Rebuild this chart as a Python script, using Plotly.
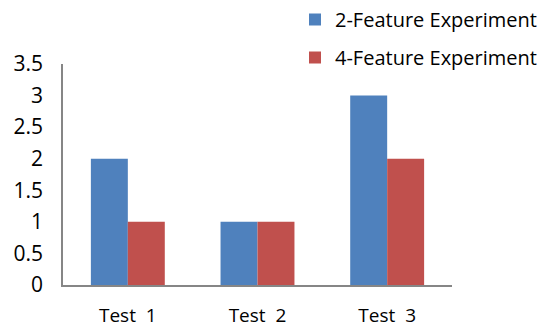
import plotly.graph_objects as go

categories = ["Test\u00a0\u00a01", "Test\u00a0\u00a02", "Test\u00a0\u00a03"]
series_2feat = [2, 1, 3]
series_4feat = [1, 1, 2]
y_ticks = [0, 0.5, 1, 1.5, 2, 2.5, 3, 3.5]
y_tick_labels = ["0", "0.5", "1", "1.5", "2", "2.5", "3", "3.5"]

fig = go.Figure()
fig.add_trace(go.Bar(x=categories, y=series_2feat, name="2-Feature Experiment",
                     marker=dict(color="#4F81BD", line=dict(width=0)), legendgroup="a"))
fig.add_trace(go.Bar(x=categories, y=series_4feat, name="4-Feature Experiment",
                     marker=dict(color="#C0504D", line=dict(width=0)), legendgroup="b"))

font_family = "Open Sans, Noto Sans, sans-serif"
fig.update_layout(
    width=545, height=329,
    margin=dict(l=63, r=93, t=64, b=44, autoexpand=False),
    paper_bgcolor="white", plot_bgcolor="white",
    barmode="group", bargap=0.43, bargroupgap=0,
    font=dict(family=font_family, size=19, color="black"),
    showlegend=True,
    legend=dict(x=295 / 545, y=1 - 0 / 329, xanchor="left", yanchor="top",
                xref="container", yref="container",
                font=dict(size=20), tracegroupgap=9,
                itemwidth=30, bgcolor="rgba(0,0,0,0)"),
    xaxis=dict(showline=True, linecolor="#868686", linewidth=1.5,
               ticks="outside", ticklen=12, tickcolor="rgba(0,0,0,0)",
               showgrid=False, tickfont=dict(size=19)),
    yaxis=dict(range=[0, 3.5], tickvals=y_ticks, ticktext=y_tick_labels,
               showline=True, linecolor="#868686", linewidth=1.5,
               showgrid=False, zeroline=False, ticks="outside", ticklen=14,
               tickcolor="rgba(0,0,0,0)", tickfont=dict(size=21)),
)
fig.write_html("out.html", config={"displayModeBar": False},
               post_script="document.body.style.margin='0';document.body.style.overflow='hidden';")
